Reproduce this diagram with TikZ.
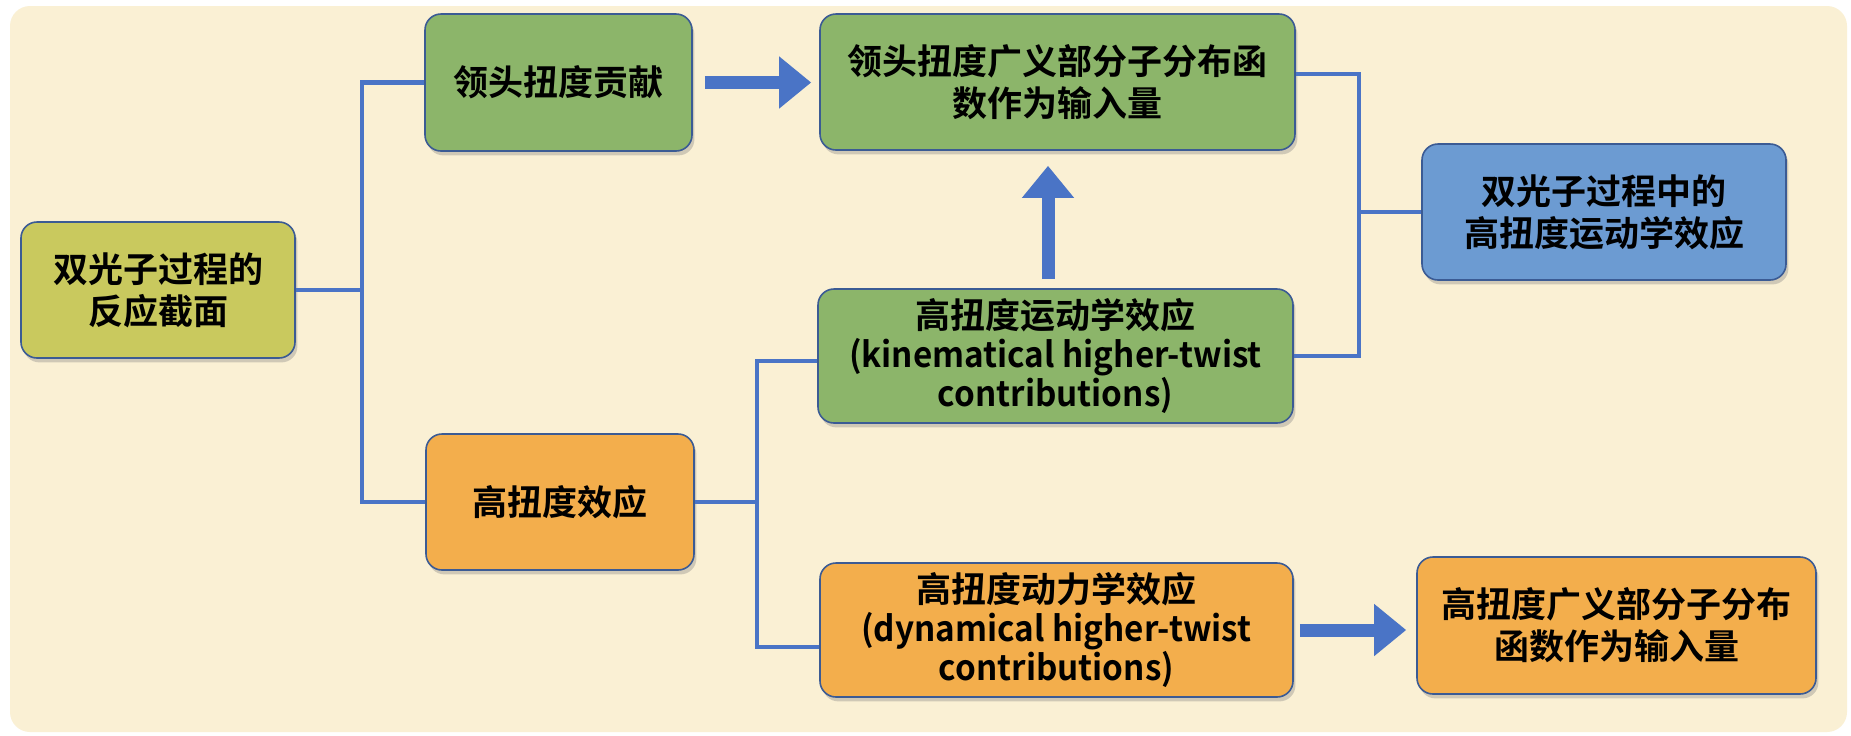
\documentclass[tikz,border=0pt]{standalone}
\usepackage{fontspec}
\usepackage{xcolor}
\usepackage{tikz}
\usetikzlibrary{arrows.meta,shadows}
\setmainfont{Noto Sans CJK SC}[UprightFont={* Bold}]
\newfontfamily\latnfont{Noto Sans CJK SC}[UprightFont={* Bold},FakeStretch=0.95]
\definecolor{bgpaper}{HTML}{FAF0D4}
\definecolor{boxline}{HTML}{3B5B94}
\definecolor{linkblue}{HTML}{4A74C6}
\definecolor{olivebox}{HTML}{C9C95E}
\definecolor{greenbox}{HTML}{8CB56A}
\definecolor{bluebox}{HTML}{6C9BD2}
\definecolor{orangebox}{HTML}{F3AE4C}
\begin{document}
\begin{tikzpicture}
                        [x=0.5pt,y=-0.5pt,
                        box/.style = {rounded corners=8pt,
                                    draw=boxline, line width=0.8pt,
                                    align=center, inner sep=0pt,
                                    font=\fontsize{17.5}{21}\selectfont,
                                    drop shadow={shadow xshift=1.2pt,shadow yshift=-2.2pt,opacity=0.35}},
                        link/.style = {draw=linkblue, line width=2.4pt},
                        bigarrow/.style = {draw=linkblue, line width=6.5pt,
                                    -{Triangle[length=16pt,width=25pt]}}]
                        \useasboundingbox (0,0) rectangle (1851,735);
                        \fill[white] (0,0) rectangle (1851,735);
                        \fill[bgpaper, rounded corners=10pt] (10,6) rectangle (1847,732);
                        % Sección eficaz
                        \node[box, fill=olivebox, minimum width=137pt, minimum height=68pt] (A) at (158,290)
                            {双光子过程的\\反应截面};
                        % Twist dominante
                        \node[box, fill=greenbox, minimum width=133.5pt, minimum height=68.5pt] (B) at (558.5,82.5)
                            {领头扭度贡献};
                        \node[box, fill=greenbox, minimum width=237.5pt, minimum height=68pt] (C) at (1057.5,82)
                            {领头扭度广义部分子分布函\\数作为输入量};
                        % Twist alto
                        \node[box, fill=orangebox, minimum width=134pt, minimum height=68pt] (F) at (560,502)
                            {高扭度效应};
                        \node[box, fill=greenbox, minimum width=237.5pt, minimum height=67pt,
                              font=\fontsize{17.5}{19.5}\selectfont] (D) at (1055.5,356)
                            {高扭度运动学效应\\{\latnfont (kinematical higher-twist}\\{\latnfont contributions)}};
                        \node[box, fill=orangebox, minimum width=236.5pt, minimum height=67pt,
                              font=\fontsize{17.5}{19.5}\selectfont] (G) at (1056.5,630)
                            {高扭度动力学效应\\{\latnfont (dynamical higher-twist}\\{\latnfont contributions)}};
                        % Resultados
                        \node[box, fill=bluebox, minimum width=182pt, minimum height=68pt] (E) at (1604,212)
                            {双光子过程中的\\高扭度运动学效应};
                        \node[box, fill=orangebox, minimum width=199.5pt, minimum height=68.5pt] (H) at (1616.5,625.5)
                            {高扭度广义部分子分布\\函数作为输入量};
                        % Puntos de unión
                        \coordinate (j1) at (362,290);
                        \coordinate (j2) at (757,502);
                        \coordinate (j3) at (1359,212);
                        % Conectores
                        \draw[link] (A.east) -- (j1);
                        \draw[link] (B.west) -| (j1) |- (F.west);
                        \draw[link] (F.east) -- (j2);
                        \draw[link] ([yshift=-2.5pt]D.west) -| (j2) |- ([yshift=-8.5pt]G.west);
                        \draw[link] ([yshift=4pt]C.east) -| (j3) |- (D.east);
                        \draw[link] (j3) -- (E.west);
                        % Flechas gruesas
                        \draw[bigarrow, shorten <=6pt, shorten >=4pt] (B.east) -- (C.west |- B.east);
                        \draw[bigarrow, shorten <=4.5pt, shorten >=7.5pt] (D.north -| 1048,0) -- (C.south -| 1048,0);
                        \draw[bigarrow, shorten <=3pt, shorten >=5pt] (G.east) -- (H.west |- G.east);
                    \end{tikzpicture}
\end{document}
